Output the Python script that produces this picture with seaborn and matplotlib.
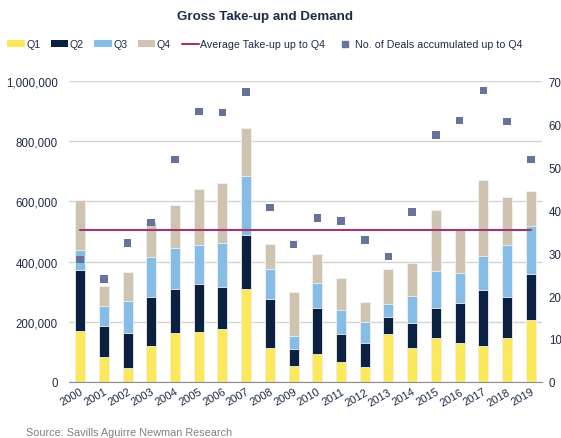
import numpy as np
import pandas as pd
import matplotlib
matplotlib.use("Agg")
import matplotlib.pyplot as plt
import seaborn as sns
from matplotlib.patches import Patch
from matplotlib.lines import Line2D

years = [str(y) for y in range(2000, 2020)]

# take-up per quarter (sqm)
q1 = [170000, 82000, 45000, 120000, 162000, 167000, 176000, 309000, 112000, 54000,
      92000, 67000, 51000, 158000, 114000, 147000, 128000, 121000, 146000, 205000]
q2 = [202000, 104000, 119000, 162000, 147000, 159000, 140000, 179000, 163000, 56000,
      155000, 92000, 80000, 57000, 83000, 100000, 134000, 186000, 137000, 155000]
q3 = [66000, 66000, 105000, 133000, 137000, 130000, 147000, 197000, 101000, 43000,
      83000, 81000, 68000, 45000, 90000, 123000, 101000, 113000, 173000, 159000]
q4 = [166000, 68000, 95000, 116000, 141000, 186000, 198000, 159000, 81000, 145000,
      95000, 104000, 66000, 115000, 109000, 203000, 143000, 252000, 158000, 117000]

# number of deals accumulated up to Q4 (right axis)
deals = [28.5, 23.9, 32.3, 37.1, 51.8, 62.9, 62.7, 67.4, 40.6, 32.0,
         38.1, 37.4, 33.0, 29.2, 39.5, 57.4, 60.8, 67.8, 60.6, 51.8]

avg_takeup = 505000

quarter_names = ["Q1", "Q2", "Q3", "Q4"]
quarter_colors = ["#FBE95B", "#0B2141", "#86BDE6", "#CFC3B2"]
line_color = "#A3346E"
marker_color = "#66739A"
text_color = "#1F2B47"

df = pd.DataFrame({"year": years, "Q1": q1, "Q2": q2, "Q3": q3, "Q4": q4})
cum = df[quarter_names].cumsum(axis=1)

sns.set_style("white")
plt.rcParams["font.family"] = ["Liberation Sans", "DejaVu Sans"]

fig = plt.figure(figsize=(5.61, 4.39), dpi=100)
ax = fig.add_axes([0.123, 0.1276, 0.843, 0.6854])

# stacked bars: draw the cumulative totals from the top down
for q, c in reversed(list(zip(quarter_names, quarter_colors))):
    sns.barplot(x=df["year"], y=cum[q], color=c, width=0.42, ax=ax,
                edgecolor="#F4F1EC", linewidth=0.6, saturation=1)

ax.plot([0, len(years) - 1], [avg_takeup, avg_takeup], color=line_color, lw=1.5, zorder=5)

ax.set_ylim(0, 1000000)
ax.set_yticks(np.arange(0, 1000001, 200000))
ax.yaxis.set_major_formatter(matplotlib.ticker.FuncFormatter(lambda v, p: f"{int(v):,}"))
ax.grid(axis="y", color="#D3D3D3", lw=1)
ax.set_axisbelow(True)
for s in ["top", "right", "left"]:
    ax.spines[s].set_visible(False)
ax.spines["bottom"].set_color("#8C8C8C")
ax.set_xlabel("")
ax.set_ylabel("")
ax.tick_params(axis="y", length=0, pad=8, labelsize=8.3, labelcolor=text_color)
ax.tick_params(axis="x", length=0, pad=3, labelsize=8, labelcolor=text_color)
plt.setp(ax.get_xticklabels(), rotation=30, ha="right", rotation_mode="anchor")

ax2 = ax.twinx()
sns.scatterplot(x=np.arange(len(years)), y=deals, ax=ax2, marker="s", s=30,
                color=marker_color, edgecolor="none", zorder=6)
ax2.set_ylim(0, 70)
ax2.set_yticks(range(0, 71, 10))
for s in ax2.spines.values():
    s.set_visible(False)
ax2.tick_params(axis="y", length=0, pad=5, labelsize=8.3, labelcolor=text_color)
ax2.set_ylabel("")
ax.set_xlim(-0.47, len(years) - 0.53)

fig.text(0.472, 0.962, "Gross Take-up and Demand", ha="center", va="center",
         fontsize=9.6, fontweight="bold", color=text_color)

handles = [Patch(facecolor=c, edgecolor="none") for c in quarter_colors]
handles.append(Line2D([0], [0], color=line_color, lw=1.5))
handles.append(Line2D([0], [0], color=marker_color, marker="s", ls="none", markersize=5))
labels = quarter_names + ["Average Take-up up to Q4", "No. of Deals accumulated up to Q4"]
leg = fig.legend(handles, labels, loc="center", bbox_to_anchor=(0.472, 0.897), ncol=6,
                 frameon=False, fontsize=7.7, handlelength=1.6, handleheight=0.58,
                 handletextpad=0.15, columnspacing=1.0, labelcolor=text_color)

fig.text(0.046, 0.002, "Source: Savills Aguirre Newman Research", fontsize=7.8,
         color="#808080", ha="left", va="bottom")

fig.savefig("out.png", dpi=100)
